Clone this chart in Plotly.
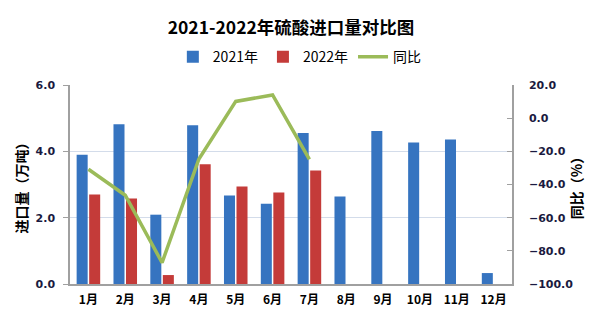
import plotly.graph_objects as go

months = ["1月", "2月", "3月", "4月", "5月", "6月", "7月", "8月", "9月", "10月", "11月", "12月"]
imports_2021 = [3.90, 4.82, 2.09, 4.79, 2.67, 2.42, 4.55, 2.64, 4.61, 4.27, 4.36, 0.33]
imports_2022 = [2.70, 2.58, 0.27, 3.61, 2.94, 2.76, 3.42, None, None, None, None, None]
yoy_pct = [-30.8, -46.5, -87.1, -24.6, 10.1, 14.0, -24.8, None, None, None, None, None]

cjk = "Noto Sans CJK SC"
tick_font = dict(family="DejaVu Sans, " + cjk, size=11, color="#1a1a40", weight="bold")

fig = go.Figure()
fig.add_trace(go.Bar(
    x=months, y=imports_2021, name="2021年",
    marker=dict(color="#3674c0", line=dict(width=0)),
))
fig.add_trace(go.Bar(
    x=months, y=imports_2022, name="2022年",
    marker=dict(color="#c43b39", line=dict(width=0)),
))
fig.add_trace(go.Scatter(
    x=months, y=yoy_pct, name="同比", yaxis="y2",
    mode="lines", line=dict(color="#9bbb59", width=3.5),
))

fig.update_layout(
    width=603, height=323,
    margin=dict(l=70, r=91, t=85, b=39),
    paper_bgcolor="white", plot_bgcolor="white",
    title=dict(
        text="2021-2022年硫酸进口量对比图",
        x=0.5, xref="paper", y=0.915, yanchor="middle",
        font=dict(family=cjk, size=17.5, color="#000000", weight="bold"),
    ),
    legend=dict(
        orientation="h", x=0.52, xref="paper", xanchor="center",
        y=1.14, yanchor="middle",
        font=dict(family=cjk, size=14, color="#000000"),
        itemwidth=30, traceorder="normal",
    ),
    barmode="group", bargap=0.32, bargroupgap=0.12,
    showlegend=True,
    xaxis=dict(
        type="category",
        showline=True, linecolor="#a0a0a0", linewidth=1.5,
        showgrid=False, ticks="", ticklabelstandoff=4,
        tickfont=dict(family=cjk, size=12, color="#000000", weight="bold"),
    ),
    yaxis=dict(
        range=[0, 6], dtick=2, tickformat=".1f",
        showline=True, linecolor="#a0a0a0", linewidth=1.5,
        ticks="outside", ticklen=5, tickcolor="#a0a0a0",
        ticklabelstandoff=6,
        showgrid=True, gridcolor="#d3dcea", gridwidth=1,
        zeroline=False,
        tickfont=tick_font,
        title=dict(text="进口量（万吨）", standoff=5,
                   font=dict(family=cjk, size=14, color="#000000", weight="bold")),
    ),
    yaxis2=dict(
        overlaying="y", side="right",
        range=[-100, 20], dtick=20, tickformat=".1f",
        showline=True, linecolor="#a0a0a0", linewidth=1.5,
        ticks="inside", ticklen=5, tickcolor="#a0a0a0",
        ticklabelstandoff=13,
        showgrid=False, zeroline=False,
        tickfont=tick_font,
        title=dict(text="同比（%）", standoff=0,
                   font=dict(family=cjk, size=14, color="#000000", weight="bold")),
    ),
)

fig.write_html("out.html")
